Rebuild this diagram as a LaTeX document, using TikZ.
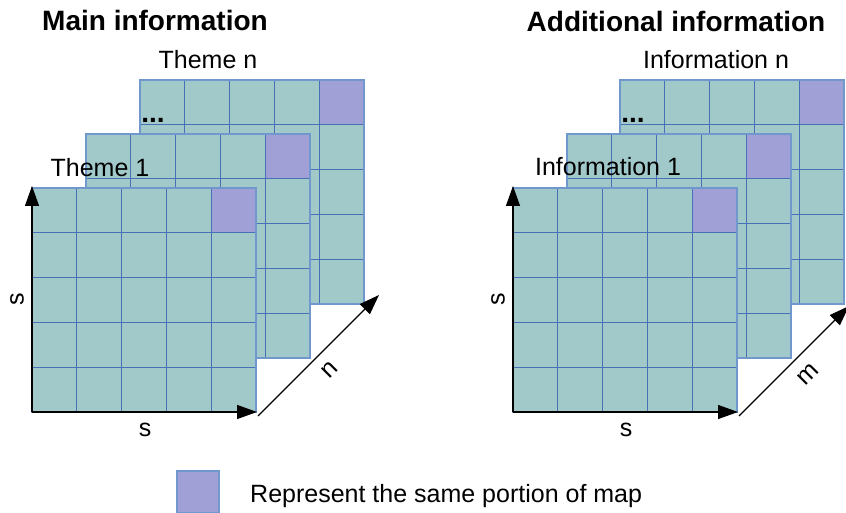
\documentclass[tikz,border=0pt]{standalone}
\usepackage{fontspec}
\setmainfont{Liberation Sans}
\usetikzlibrary{arrows.meta}
\definecolor{tealc}{RGB}{161,201,202}
\definecolor{purp}{RGB}{160,160,214}
\definecolor{gridin}{RGB}{72,112,182}
\definecolor{gridout}{RGB}{112,152,204}
\tikzset{
  gridline/.style={draw=gridin, line width=0.9pt},
  gridborder/.style={draw=gridout, line width=1.4pt},
  axisarrow/.style={draw=black, line width=1.3pt, -{Triangle[length=20pt,width=14pt]}},
  titletext/.style={font=\fontsize{28}{32}\selectfont\bfseries, inner sep=0pt, anchor=base},
  labeltext/.style={font=\fontsize{25}{30}\selectfont, inner sep=0pt, anchor=base},
  axislabel/.style={font=\fontsize{25}{30}\selectfont, inner sep=0pt},
  legendbox/.style={fill=purp, draw=gridout, line width=1.2pt, minimum width=42pt, minimum height=42pt, inner sep=0pt},
}
\newcommand\mapgrid[2]{%
  \begin{scope}[shift={(#1,#2)}]
    \fill[tealc] (0,0) rectangle (224,224);
    \fill[purp] (179.2,0) rectangle (224,44.8);
    \foreach \i in {1,...,4} {
      \draw[gridline] (\i*44.8,0) -- (\i*44.8,224);
      \draw[gridline] (0,\i*44.8) -- (224,\i*44.8);
    }
    \draw[gridborder] (0,0) rectangle (224,224);
  \end{scope}}
\begin{document}
\begin{tikzpicture}[x=1pt,y=-1pt]
\clip (0,0) rectangle (846,513);
% titles
\node[titletext] (t1) at (155,30.5) {Main information};
\node[titletext] (t2) at (676,32) {Additional information};
% left stack
\mapgrid{140}{80}
\node[labeltext] (thn) at (208,69) {Theme n};
\node[titletext] (dl) at (153,123) {...};
\mapgrid{86}{134}
\node[labeltext] (th1) at (100,177) {Theme 1};
\mapgrid{32}{188}
% right stack
\mapgrid{620}{80}
\node[labeltext] (inn) at (716,69) {Information n};
\node[titletext] (dr) at (633,123) {...};
\mapgrid{567}{134}
\node[labeltext] (in1) at (608,176) {Information 1};
\mapgrid{513}{188}
% axes left
\coordinate (lo) at (32,412);
\coordinate (ly) at (32,186);
\coordinate (lx) at (257,412);
\coordinate (ld0) at (258,416);
\coordinate (ld1) at (379,295);
\draw[axisarrow] (lo) -- (ly);
\draw[axisarrow] (lo) -- (lx);
\draw[axisarrow] (ld0) -- (ld1);
\node[axislabel, rotate=90] (ls) at (17,299) {s};
\node[axislabel] (lsb) at (145,430) {s};
\node[axislabel, rotate=45] (ln) at (330,370) {n};
% axes right
\coordinate (ro) at (513,412);
\coordinate (ry) at (513,186);
\coordinate (rx) at (738,412);
\coordinate (rd0) at (739,416);
\coordinate (rd1) at (849,306);
\draw[axisarrow] (ro) -- (ry);
\draw[axisarrow] (ro) -- (rx);
\draw[axisarrow] (rd0) -- (rd1);
\node[axislabel, rotate=90] (rs) at (498,299) {s};
\node[axislabel] (rsb) at (626,430) {s};
\node[axislabel, rotate=45] (rm) at (808,374) {m};
% legend
\node[legendbox] (lg) at (198,492) {};
\node[labeltext, anchor=base west] (lgt) at (250,502) {Represent the same portion of map};
\end{tikzpicture}
\end{document}
